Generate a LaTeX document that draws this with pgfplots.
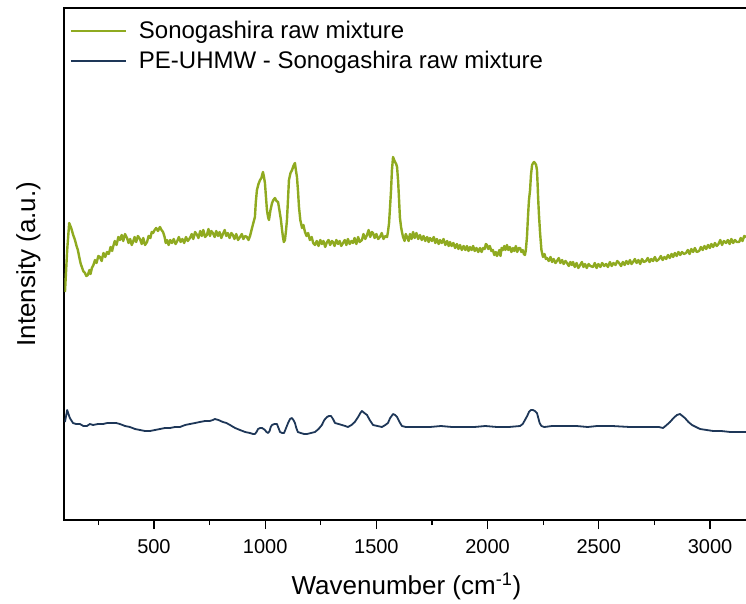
\documentclass[border=0pt]{standalone}
\usepackage{fontspec}
\setmainfont{Liberation Sans}
\usepackage{pgfplots}
\pgfplotsset{compat=1.18}
\definecolor{sgreen}{RGB}{143,170,32}
\definecolor{sblue}{RGB}{30,55,88}

\begin{document}
\begin{tikzpicture}
\begin{axis}[
 at={(64.3pt,83pt)}, anchor=south west,
 scale only axis, width=684.2pt, height=512pt,
 xmin=97, xmax=3173, ymin=0, ymax=512,
 ytick=\empty,
 xtick={500,1000,1500,2000,2500,3000},
 minor xtick={250,750,1250,1750,2250,2750},
 xtick pos=left,
 tick align=outside,
 major tick length=9pt, minor tick length=5pt,
 every tick/.style={black, line width=1.2pt},
 axis line style={line width=2pt},
 tick label style={font=\fontsize{20}{24}\selectfont},
 xticklabel style={yshift=-7pt},
 /pgf/number format/assume math mode=true,
 /pgf/number format/1000 sep={},
 xlabel={Wavenumber (cm\textsuperscript{-1})},
 ylabel={Intensity (a.u.)},
 every axis x label/.style={at={(axis description cs:0.5,-0.13)}, anchor=center, font=\fontsize{26}{30}\selectfont},
 every axis y label/.style={at={(axis description cs:-0.0526,0.5)}, anchor=center, rotate=90, font=\fontsize{26}{30}\selectfont},
 legend style={at={(axis description cs:0.005,0.982)}, anchor=north west, draw=none, fill=none, font=\fontsize{24}{28}\selectfont, row sep=7pt, inner sep=2pt,
   /tikz/every odd column/.append style={column sep=10pt}},
 legend cell align=left,
 legend image code/.code={\draw[#1, line width=2pt] (0pt,0pt) -- (55pt,0pt);},
]
\addplot[sgreen, line width=2.4pt, line join=round] coordinates {
(100,228)(110,270)(119,297)(128,292)(137,285)(145,280)(152,274)(158,270)(165,262)(171,256)
(176,253)(182,249)(190,247)(196,244)(203,245)(210,250)(215,246)(221,252)(228,255)(235,260)
(242,257)(250,264)(257,263)(265,259)(273,267)(281,263)(289,268)(297,266)(305,273)(312,269)
(316,273)(324,279)(332,275)(340,283)(347,280)(355,285)(362,279)(370,286)(379,282)(386,277)
(393,281)(400,275)(406,278)(413,283)(420,278)(428,284)(437,281)(445,276)(452,282)(460,275)
(469,278)(476,284)(484,282)(490,288)(496,287)(503,290)(510,292)(518,289)(527,293)(534,290)
(541,288)(548,283)(553,277)(559,280)(566,275)(573,280)(581,277)(589,281)(597,276)(605,279)
(612,283)(620,278)(628,281)(636,277)(644,283)(652,279)(662,282)(670,286)(677,281)(685,288)
(694,285)(700,282)(708,289)(715,284)(722,290)(730,283)(738,285)(745,291)(752,284)(758,289)
(765,287)(773,283)(780,289)(788,284)(795,288)(803,282)(810,286)(818,290)(825,284)(832,287)
(840,282)(848,287)(855,285)(862,281)(870,286)(878,280)(887,283)(895,286)(902,281)(910,284)
(918,283)(925,280)(932,284)(941,292)(948,298)(954,303)(958,318)(963,330)(970,336)(977,340)
(983,342)(990,348)(994,344)(999,337)(1004,322)(1008,310)(1013,303)(1017,300)(1024,310)(1031,317)
(1037,320)(1044,322)(1051,319)(1058,318)(1064,310)(1071,300)(1076,290)(1080,283)(1084,278)(1089,280)
(1094,290)(1098,300)(1103,322)(1107,340)(1114,347)(1121,350)(1127,354)(1134,357)(1138,350)(1143,343)
(1148,328)(1152,313)(1158,300)(1166,292)(1172,295)(1179,288)(1186,284)(1193,287)(1201,280)(1209,283)
(1216,277)(1224,275)(1232,279)(1240,274)(1248,280)(1255,276)(1262,279)(1270,273)(1278,278)(1285,280)
(1292,275)(1300,279)(1305,278)(1312,274)(1320,280)(1328,276)(1335,279)(1342,274)(1350,277)(1358,280)
(1365,275)(1372,281)(1380,276)(1388,279)(1395,277)(1402,282)(1410,276)(1418,283)(1425,278)(1435,280)
(1442,286)(1450,281)(1458,285)(1465,290)(1472,283)(1480,288)(1485,287)(1492,282)(1500,286)(1508,281)
(1516,283)(1524,287)(1532,281)(1540,284)(1548,283)(1552,288)(1557,297)(1562,315)(1566,330)(1570,350)
(1575,363)(1580,360)(1584,358)(1589,356)(1593,353)(1598,338)(1602,320)(1606,302)(1611,293)(1615,288)
(1620,283)(1627,279)(1632,286)(1638,283)(1645,279)(1651,286)(1658,281)(1665,288)(1672,282)(1680,287)
(1688,281)(1696,285)(1704,280)(1712,284)(1720,279)(1728,283)(1735,278)(1741,282)(1750,279)(1758,283)
(1765,277)(1772,281)(1780,276)(1786,280)(1794,277)(1802,281)(1810,275)(1818,279)(1825,274)(1831,278)
(1838,274)(1846,277)(1854,272)(1862,276)(1869,271)(1876,275)(1884,270)(1892,274)(1900,270)(1907,274)
(1914,269)(1921,273)(1928,270)(1935,274)(1942,269)(1950,272)(1958,268)(1966,272)(1973,268)(1980,272)
(1987,271)(1992,276)(1997,275)(2003,271)(2010,274)(2017,269)(2024,270)(2030,265)(2037,268)(2042,264)
(2047,266)(2053,270)(2058,264)(2063,272)(2069,270)(2075,274)(2080,270)(2087,275)(2093,270)(2100,273)
(2107,268)(2114,272)(2120,269)(2127,274)(2133,268)(2140,272)(2146,272)(2152,268)(2158,270)(2163,266)
(2168,265)(2172,270)(2177,283)(2182,305)(2186,320)(2191,330)(2195,345)(2200,355)(2205,357)(2209,358)
(2213,357)(2218,355)(2222,350)(2225,335)(2227,323)(2231,305)(2236,287)(2242,270)(2249,263)(2256,266)
(2262,261)(2267,262)(2275,259)(2283,263)(2290,258)(2297,261)(2305,257)(2312,259)(2320,262)(2327,257)
(2335,260)(2342,256)(2350,259)(2357,257)(2365,254)(2372,258)(2379,255)(2384,258)(2392,253)(2400,257)
(2408,252)(2416,255)(2424,258)(2431,253)(2438,256)(2446,252)(2454,256)(2462,254)(2474,253)(2482,257)
(2490,252)(2498,256)(2507,253)(2515,257)(2524,254)(2533,256)(2541,253)(2550,258)(2558,254)(2566,257)
(2575,255)(2583,259)(2591,257)(2600,254)(2608,258)(2616,255)(2624,259)(2632,256)(2640,260)(2647,256)
(2654,258)(2662,261)(2670,257)(2678,260)(2686,256)(2694,261)(2702,258)(2712,259)(2720,262)(2728,258)
(2736,261)(2744,259)(2752,263)(2760,259)(2771,261)(2779,264)(2787,260)(2795,263)(2803,261)(2811,265)
(2819,262)(2827,266)(2834,263)(2842,267)(2850,264)(2858,268)(2866,265)(2874,268)(2883,266)(2892,267)
(2900,270)(2908,266)(2916,271)(2924,268)(2932,272)(2940,268)(2951,269)(2959,273)(2967,270)(2975,274)
(2983,271)(2991,275)(2999,272)(3006,276)(3014,273)(3022,277)(3030,274)(3038,276)(3046,280)(3054,275)
(3062,279)(3072,277)(3080,280)(3088,276)(3096,281)(3104,277)(3112,280)(3120,278)(3131,278)(3138,282)
(3146,279)(3154,284)(3162,283)
};
\addlegendentry{Sonogashira raw mixture}
\addplot[sblue, line width=1.8pt, line join=round] coordinates {
(100,98)(110,110)(116,106)(122,102)(136,97)(150,96)(167,96)(183,94)(199,94)(212,96)(226,95)(248,96)
(271,96)(290,97)(311,97)(330,97)(347,96)(370,94)(392,93)(415,91)(437,90)(460,89)(482,89)(505,90)
(527,91)(550,92)(572,92)(595,93)(617,93)(640,95)(662,96)(685,97)(706,98)(730,99)(751,99)(765,100)
(774,101)(790,100)(810,98)(826,97)(842,95)(865,92)(887,90)(910,88)(932,87)(945,86)(954,86)(961,88)
(968,91)(977,92)(986,92)(993,91)(999,90)(1006,88)(1013,87)(1020,89)(1025,93)(1031,95)(1042,96)(1053,96)
(1060,92)(1067,88)(1076,87)(1085,87)(1094,92)(1103,97)(1112,101)(1120,102)(1127,100)(1134,97)(1140,92)
(1147,88)(1160,87)(1175,86)(1188,86)(1206,87)(1224,88)(1240,91)(1255,95)(1266,100)(1278,103)(1287,104)
(1296,104)(1305,101)(1314,97)(1330,96)(1345,95)(1360,94)(1372,93)(1388,95)(1403,98)(1418,103)(1428,107)
(1435,109)(1446,107)(1458,105)(1470,100)(1485,95)(1505,94)(1525,93)(1540,95)(1552,97)(1562,102)(1575,106)
(1584,105)(1593,103)(1604,98)(1615,94)(1633,93)(1651,93)(1690,93)(1741,93)(1790,94)(1840,93)(1890,93)
(1940,93)(1990,94)(2042,93)(2095,93)(2146,94)(2158,96)(2168,100)(2178,104)(2186,108)(2195,110)(2204,110)
(2213,109)(2222,107)(2228,102)(2234,97)(2242,94)(2255,93)(2290,94)(2339,94)(2400,94)(2450,93)(2492,94)
(2560,94)(2640,93)(2700,93)(2744,93)(2770,93)(2789,92)(2805,95)(2820,98)(2836,102)(2851,105)(2865,106)
(2876,104)(2887,102)(2903,98)(2919,95)(2937,93)(2955,91)(2985,90)(3014,89)(3050,89)(3091,88)(3130,88)
(3162,88)
};
\addlegendentry{PE-UHMW - Sonogashira raw mixture}
\end{axis}
\pgfresetboundingbox
\useasboundingbox (0,0) rectangle (746pt,603pt);
\end{tikzpicture}
\end{document}
